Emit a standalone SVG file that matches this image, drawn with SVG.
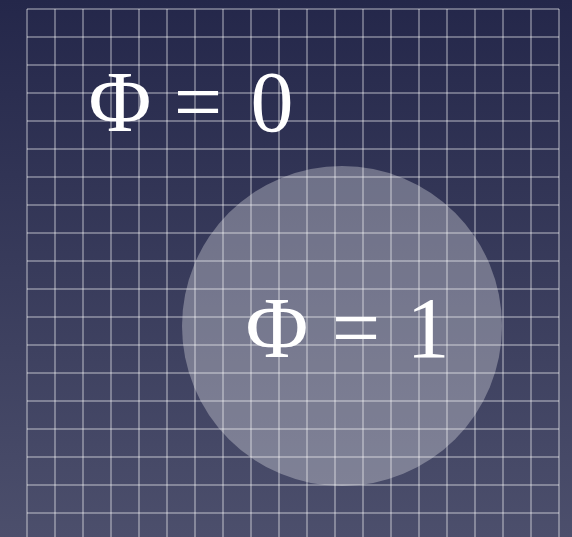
<svg xmlns="http://www.w3.org/2000/svg" width="572" height="537" viewBox="0 0 572 537">
<defs>
<linearGradient id="bg" x1="0" y1="0" x2="0" y2="1">
<stop offset="0" stop-color="#24274a"/>
<stop offset="1" stop-color="#4c4f6c"/>
</linearGradient>
<style>
.eq{font-family:"Liberation Serif","Times New Roman",serif;font-size:86px;fill:#ffffff;text-anchor:middle}
.gl{fill:none;stroke:#ffffff;stroke-opacity:0.33;stroke-width:2}
</style>
</defs>
<rect width="572" height="537" fill="url(#bg)"/>
<g id="grid-area">
<path class="gl" d="M27 9V537M55 9V537M83 9V537M111 9V537M139 9V537M167 9V537M195 9V537M223 9V537M251 9V537M279 9V537M307 9V537M335 9V537M363 9V537M391 9V537M419 9V537M447 9V537M475 9V537M503 9V537M531 9V537M559 9V537"/>
<path class="gl" d="M27 9H559M27 37H559M27 65H559M27 93H559M27 121H559M27 149H559M27 177H559M27 205H559M27 233H559M27 261H559M27 289H559M27 317H559M27 345H559M27 373H559M27 401H559M27 429H559M27 457H559M27 485H559M27 513H559"/>
</g>
<g id="region">
<circle cx="342" cy="326" r="160" fill="#ffffff" fill-opacity="0.3"/>
</g>
<g id="label0">
<text class="eq" x="120" y="131">Φ</text>
<text class="eq" x="198" y="131">=</text>
<text class="eq" x="272" y="131">0</text>
</g>
<g id="label1">
<text class="eq" x="277" y="357">Φ</text>
<text class="eq" x="356" y="357">=</text>
<text class="eq" x="428" y="357">1</text>
</g>
</svg>
